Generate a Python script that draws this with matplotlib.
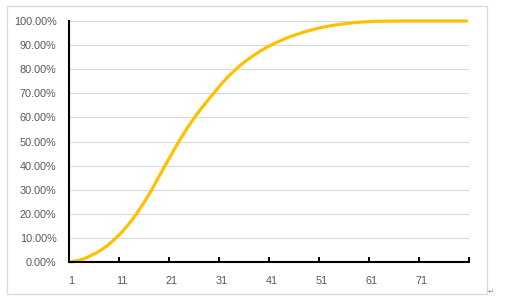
"""Cumulative share curve, Excel-style line chart -> out.png"""
import matplotlib
matplotlib.use("Agg")
import matplotlib.pyplot as plt
from matplotlib.patches import Rectangle
from matplotlib.ticker import PercentFormatter

# category index 1..80 and cumulative share
categories = list(range(1, 81))
cum_share = [
    0.000, 0.005, 0.010, 0.018, 0.028, 0.038, 0.051, 0.065, 0.083, 0.102,
    0.122, 0.146, 0.172, 0.200, 0.231, 0.263, 0.298, 0.336, 0.373, 0.410,
    0.447, 0.483, 0.518, 0.551, 0.582, 0.611, 0.638, 0.664, 0.689, 0.714,
    0.739, 0.762, 0.783, 0.802, 0.820, 0.836, 0.851, 0.865, 0.878, 0.890,
    0.901, 0.911, 0.920, 0.929, 0.937, 0.944, 0.951, 0.957, 0.963, 0.968,
    0.973, 0.977, 0.981, 0.984, 0.987, 0.990, 0.992, 0.994, 0.9955, 0.997,
    0.998, 0.9985, 0.999, 0.9993, 0.9995, 0.9997, 0.9998, 0.9999, 1.000, 1.000,
    1.000, 1.000, 1.000, 1.000, 1.000, 1.000, 1.000, 1.000, 1.000, 1.000,
]
x_labels = ["1", "11", "21", "31", "41", "51", "61", "71"]
y_ticks = [i / 10 for i in range(11)]

GOLD, TXT, GRID = "#ffc000", "#595959", "#d9d9d9"
W, H = 506, 302

fig = plt.figure(figsize=(W / 100, H / 100), dpi=100)
fig.patch.set_facecolor("white")

# chart border
fig.patches.append(Rectangle((7 / W, 1 - 294 / H), 480 / W, 288 / H,
                             transform=fig.transFigure, fill=False,
                             edgecolor=GRID, lw=0.9))

ax = fig.add_axes([69 / W, 1 - 262 / H, 400 / W, 241 / H])
ax.plot(categories, cum_share, color=GOLD, lw=2.3, solid_capstyle="round",
        zorder=3, clip_on=False)

ax.set_xlim(0.5, len(categories) + 0.5)
ax.set_ylim(0, 1)

# tick marks on category boundaries, labels on category centres
ax.set_xticks([0.5 + 10 * k for k in range(9)])
ax.set_xticklabels([])
ax.set_xticks([int(s) for s in x_labels], minor=True)
ax.set_xticklabels(x_labels, minor=True)
ax.tick_params(axis="x", which="major", direction="in", length=3.5,
               width=1.4, color="black")
ax.tick_params(axis="x", which="minor", length=0, pad=10, labelsize=7.8,
               labelcolor=TXT)

ax.set_yticks(y_ticks)
ax.yaxis.set_major_formatter(PercentFormatter(1.0, decimals=2))
ax.tick_params(axis="y", length=0, pad=9, labelsize=7.8, labelcolor=TXT)
for lab in ax.get_xticklabels(minor=True) + ax.get_yticklabels():
    lab.set_family(["Liberation Sans", "DejaVu Sans"])

ax.grid(True, axis="y", color=GRID, lw=0.8)
ax.set_axisbelow(True)
for s in ("top", "right"):
    ax.spines[s].set_visible(False)
for s in ("left", "bottom"):
    ax.spines[s].set_color("black")
    ax.spines[s].set_linewidth(1.5)
    ax.spines[s].set_zorder(4)

# paragraph mark left by the word processor
fig.text(488 / W, 1 - 291 / H, "\u21b5", color="#8c8c8c", fontsize=5.5,
         ha="left", va="center")

fig.savefig("out.png", dpi=100, facecolor="white")
